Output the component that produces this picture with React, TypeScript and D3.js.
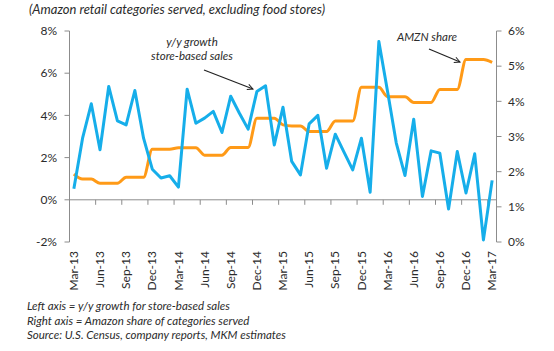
import React from "react";
import * as d3 from "d3";

const months: string[] = [
  "Mar-13","Apr-13","May-13","Jun-13","Jul-13","Aug-13","Sep-13","Oct-13","Nov-13","Dec-13",
  "Jan-14","Feb-14","Mar-14","Apr-14","May-14","Jun-14","Jul-14","Aug-14","Sep-14","Oct-14","Nov-14","Dec-14",
  "Jan-15","Feb-15","Mar-15","Apr-15","May-15","Jun-15","Jul-15","Aug-15","Sep-15","Oct-15","Nov-15","Dec-15",
  "Jan-16","Feb-16","Mar-16","Apr-16","May-16","Jun-16","Jul-16","Aug-16","Sep-16","Oct-16","Nov-16","Dec-16",
  "Jan-17","Feb-17","Mar-17",
];

const tickLabels: string[] = [
  "Mar-13","Jun-13","Sep-13","Dec-13","Mar-14","Jun-14","Sep-14","Dec-14",
  "Mar-15","Jun-15","Sep-15","Dec-15","Mar-16","Jun-16","Sep-16","Dec-16","Mar-17",
];

// y/y growth of store-based sales (left axis, %)
const storeGrowth: number[] = [
  0.52, 2.92, 4.55, 2.37, 5.37, 3.74, 3.55, 5.18, 2.92, 1.45,
  1.03, 1.14, 0.6, 5.24, 3.63, 3.87, 4.19, 3.19, 4.91, 4.1, 3.35, 5.13,
  5.4, 2.6, 4.39, 1.82, 1.18, 3.6, 4.0, 1.5, 3.11, 2.26, 1.42, 2.92,
  0.36, 7.5, 5.13, 2.69, 1.15, 3.82, 0.16, 2.32, 2.21, -0.44, 2.29, 0.32,
  2.18, -1.9, 0.92,
];

// Amazon share of categories served (right axis, %)
const amznShare: number[] = [
  1.93, 1.79, 1.79, 1.67, 1.67, 1.67, 1.84, 1.84, 1.84, 2.64,
  2.64, 2.64, 2.68, 2.68, 2.68, 2.47, 2.47, 2.47, 2.69, 2.69, 2.69, 3.52,
  3.52, 3.52, 3.33, 3.3, 3.3, 3.14, 3.14, 3.14, 3.44, 3.44, 3.44, 4.4,
  4.4, 4.4, 4.13, 4.13, 4.13, 3.97, 3.97, 3.97, 4.34, 4.34, 4.34, 5.19,
  5.19, 5.19, 5.11,
];

const leftTicks: number[] = [-2, 0, 2, 4, 6, 8];
const rightTicks: number[] = [0, 1, 2, 3, 4, 5, 6];

const footnotes: string[] = [
  "Left axis = y/y growth for store-based sales",
  "Right axis = Amazon share of categories served",
  "Source: U.S. Census, company reports, MKM estimates",
];

const FONT = "Lato, 'Open Sans', sans-serif";
const BLUE = "#16AEEA";
const ORANGE = "#FF9A17";
const AXIS = "#8c8c8c";
const TEXT = "#2b2b2b";

export default function App() {
  const x = d3.scaleBand<number>().domain(months.map((_, i) => i)).range([69.5, 496.5]).paddingInner(0).paddingOuter(0);
  const cx = (i: number) => (x(i) as number) + x.bandwidth() / 2;
  const yL = d3.scaleLinear().domain([-2, 8]).range([242, 31]);
  const yR = d3.scaleLinear().domain([0, 6]).range([242, 31]);

  const blueLine = d3.line<number>().x((_, i) => cx(i)).y((d) => yL(d)).curve(d3.curveLinear);
  const orangeLine = d3.line<number>().x((_, i) => cx(i)).y((d) => yR(d)).curve(d3.curveMonotoneX);

  const xLeft = 69.5;
  const xRight = 496.5;
  const y0 = yL(0);

  const tickIdx = d3.range(0, months.length, 3);

  return (
    <svg width={554} height={351} style={{ position: "absolute", left: 0, top: 0, background: "#fff" }} fontFamily={FONT}>
      <defs>
        <marker id="arr" viewBox="0 0 10 10" refX={9} refY={5} markerWidth={7} markerHeight={7} orient="auto" markerUnits="userSpaceOnUse">
          <path d="M1,1 L9,5 L1,9" fill="none" stroke="#222" strokeWidth={1.4} />
        </marker>
      </defs>

      <text x={29} y={14} fontSize={12.5} fontStyle="italic" fill={TEXT} textLength={296} lengthAdjust="spacingAndGlyphs">
        (Amazon retail categories served, excluding food stores)
      </text>

      {/* left axis */}
      <line x1={xLeft} x2={xLeft} y1={yL(8)} y2={yL(-2)} stroke={AXIS} strokeWidth={1} />
      {leftTicks.map((t) => (
        <g key={"l" + t}>
          <line x1={xLeft - 5} x2={xLeft} y1={yL(t)} y2={yL(t)} stroke={AXIS} />
          <text x={57} y={yL(t)} dy="0.35em" textAnchor="end" fontSize={12} fill={TEXT}>{t + "%"}</text>
        </g>
      ))}

      {/* right axis */}
      <line x1={xRight} x2={xRight} y1={yR(6)} y2={yR(0)} stroke={AXIS} strokeWidth={1} />
      {rightTicks.map((t) => (
        <g key={"r" + t}>
          <line x1={xRight} x2={xRight + 5} y1={yR(t)} y2={yR(t)} stroke={AXIS} />
          <text x={508} y={yR(t)} dy="0.35em" textAnchor="start" fontSize={12} fill={TEXT}>{t + "%"}</text>
        </g>
      ))}

      {/* category axis at 0% */}
      <line x1={xLeft} x2={xRight} y1={y0} y2={y0} stroke={AXIS} />
      {tickIdx.map((i) => (
        <line key={"t" + i} x1={x(i) as number} x2={x(i) as number} y1={y0} y2={y0 + 5} stroke={AXIS} />
      ))}
      {tickLabels.map((lab) => {
        const i = months.indexOf(lab);
        return (
          <text key={lab} transform={`translate(${cx(i)},251) rotate(-90)`} dy="0.35em" textAnchor="end" fontSize={12} fill={TEXT}>
            {lab}
          </text>
        );
      })}

      <path d={orangeLine(amznShare) || ""} fill="none" stroke={ORANGE} strokeWidth={3} strokeLinejoin="round" />
      <path d={blueLine(storeGrowth) || ""} fill="none" stroke={BLUE} strokeWidth={3} strokeLinejoin="round" />

      {/* annotations */}
      <text x={192} y={46} textAnchor="middle" fontSize={11.5} fontStyle="italic" fill={TEXT}>y/y growth</text>
      <text x={192} y={60} textAnchor="middle" fontSize={11.5} fontStyle="italic" fill={TEXT}>store-based sales</text>
      <line x1={204} y1={70} x2={253} y2={89} stroke="#222" strokeWidth={1.2} markerEnd="url(#arr)" />

      <text x={427} y={41} textAnchor="middle" fontSize={11.5} fontStyle="italic" fill={TEXT}>AMZN share</text>
      <line x1={429} y1={49} x2={460} y2={62} stroke="#222" strokeWidth={1.2} markerEnd="url(#arr)" />

      {footnotes.map((f, k) => (
        <text key={k} x={27} y={310 + k * 14.5} fontSize={11.5} fontStyle="italic" fill={TEXT}>{f}</text>
      ))}
    </svg>
  );
}
